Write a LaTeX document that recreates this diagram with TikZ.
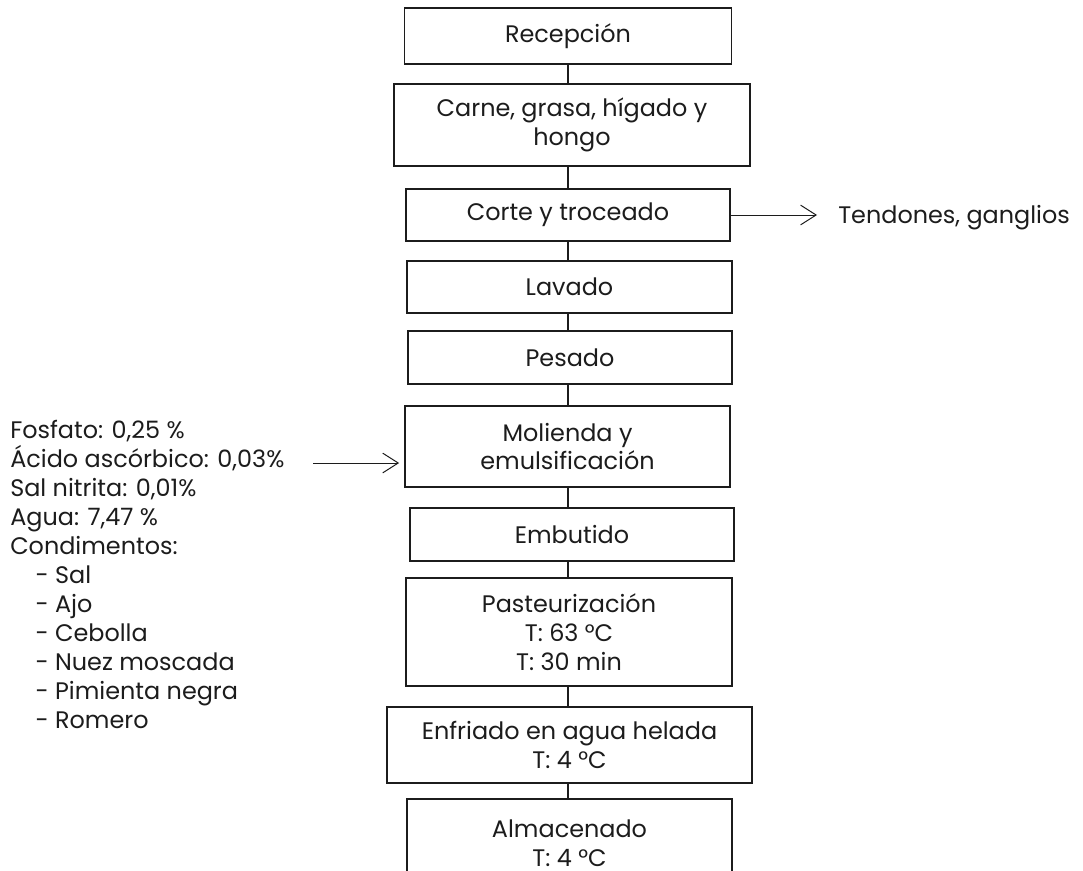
\documentclass[tikz,border=0pt]{standalone}
\usepackage{fontspec}
\setmainfont{Poppins}
\usetikzlibrary{arrows.meta}

\definecolor{ink}{HTML}{1C1C1C}

\begin{document}
\begin{tikzpicture}[
  x=0.025cm,
  y=-0.025cm,
  font=\fontsize{17}{20.6}\selectfont,
  text=ink,
  paso/.style={draw=ink,line width=1.3pt,fill=white,align=center,inner sep=2pt},
  enlace/.style={draw=ink,line width=.9pt},
  flecha/.style={draw=ink,line width=.7pt,-{Straight Barb[length=11pt,width=14pt]}},
  lista/.style={align=left,inner sep=0pt}
]
\useasboundingbox (0,0) rectangle (1083,870);

% diagrama de proceso
\node[paso,minimum width=8.175cm,minimum height=1.4cm] (rec) at (568,36) {Recepción};
\node[paso,minimum width=8.9cm,minimum height=2.05cm] (carne) at (572,125)
  {Carne, grasa, hígado y\\hongo};
\node[paso,minimum width=8.1cm,minimum height=1.3cm] (corte) at (568,215) {Corte y troceado};
\node[paso,minimum width=8.125cm,minimum height=1.3cm] (lav) at (569.5,287) {Lavado};
\node[paso,minimum width=8.1cm,minimum height=1.325cm] (pes) at (570,357.5) {Pesado};
\node[paso,minimum width=8.125cm,minimum height=2.025cm] (mol) at (567.5,446.5)
  {Molienda y\\emulsificación};
\node[paso,minimum width=8.1cm,minimum height=1.325cm] (emb) at (572,534.5) {Embutido};
\node[paso,minimum width=8.15cm,minimum height=2.7cm] (past) at (569,632)
  {Pasteurización\\T: 63 °C\\T: 30 min};
\node[paso,minimum width=9.125cm,minimum height=1.9cm] (enf) at (569.5,745)
  {Enfriado en agua helada\\T: 4 °C};
\node[paso,minimum width=8.125cm,minimum height=2.2cm] (alm) at (569.5,843)
  {Almacenado\\T: 4 °C};

\draw[enlace] (rec.south) -- (rec.south |- carne.north);
\draw[enlace] (rec.south |- carne.south) -- (rec.south |- corte.north);
\draw[enlace] (rec.south |- corte.south) -- (rec.south |- lav.north);
\draw[enlace] (rec.south |- lav.south) -- (rec.south |- pes.north);
\draw[enlace] (rec.south |- pes.south) -- (rec.south |- mol.north);
\draw[enlace] (rec.south |- mol.south) -- (rec.south |- emb.north);
\draw[enlace] (rec.south |- emb.south) -- (rec.south |- past.north);
\draw[enlace] (rec.south |- past.south) -- (rec.south |- enf.north);
\draw[enlace] (rec.south |- enf.south) -- (rec.south |- alm.north);

% salida
\node[lista,anchor=west] (res) at (838,218) {Tendones, ganglios};
\coordinate (resfin) at (817,215);
\draw[flecha] (corte.east) -- (resfin);

% insumos
\node[lista,anchor=north west] (ins) at (10,420)
  {Fosfato: 0,25 \%\\
   Ácido ascórbico: 0,03\%\\
   Sal nitrita: 0,01\%\\
   Agua: 7,47 \%\\
   Condimentos:\\
   \hspace*{18pt}- Sal\\
   \hspace*{18pt}- Ajo\\
   \hspace*{18pt}- Cebolla\\
   \hspace*{18pt}- Nuez moscada\\
   \hspace*{18pt}- Pimienta negra\\
   \hspace*{18pt}- Romero};
\coordinate (insfin) at (313,463);
\draw[flecha,shorten >=3.5pt] (insfin) -- (insfin -| mol.west);
\end{tikzpicture}
\end{document}
